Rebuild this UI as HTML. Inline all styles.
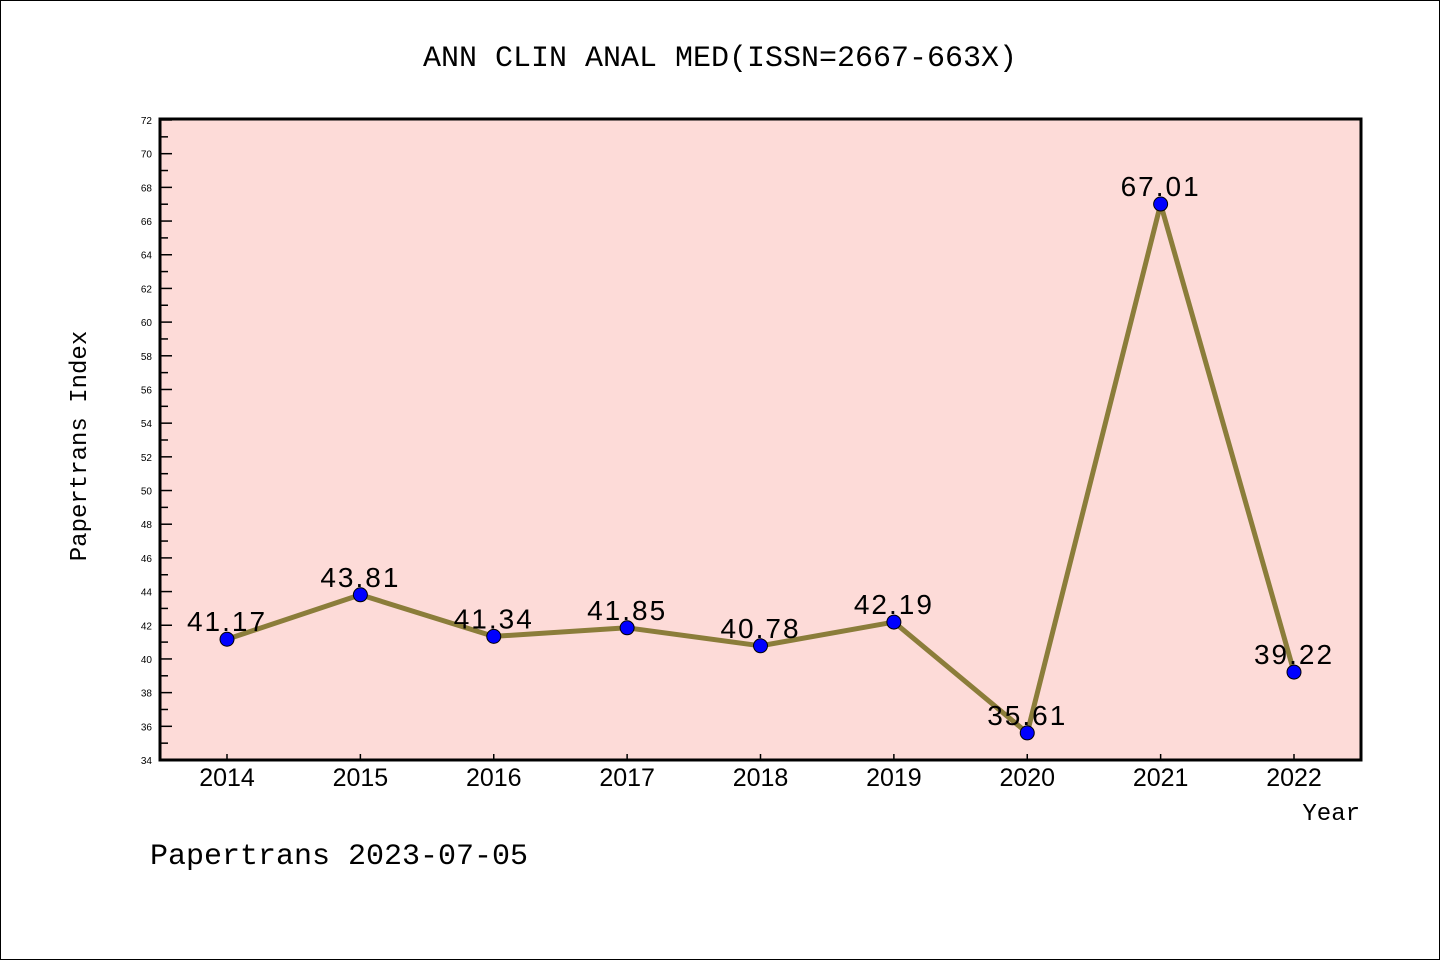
<!DOCTYPE html>
<html><head><meta charset="utf-8"><style>
html,body{margin:0;padding:0;background:#fff}
svg{display:block;font-family:"Liberation Mono","DejaVu Sans Mono",monospace}
</style></head><body>
<svg id="chart" width="1440" height="960">
<rect x="0.5" y="0.5" width="1439" height="959" fill="#fff" stroke="#000"/>
<text x="720" y="66" text-anchor="middle" font-size="30">ANN CLIN ANAL MED(ISSN=2667-663X)</text>
<rect x="160" y="119" width="1201" height="641" fill="#fddbd8"/>
<g id="yaxis"></g>
<g id="xaxis"></g>
<g id="series"></g>
<rect x="160" y="119" width="1201" height="641" fill="none" stroke="#000" stroke-width="3"/>
<text x="86" y="446" transform="rotate(-90 86 446)" text-anchor="middle" font-size="24">Papertrans Index</text>
<text x="1360" y="820" text-anchor="end" font-size="24">Year</text>
<text x="150" y="864" font-size="30">Papertrans 2023-07-05</text>
</svg>
<script>
const categories=["2014","2015","2016","2017","2018","2019","2020","2021","2022"];
const values=[41.17,43.81,41.34,41.85,40.78,42.19,35.61,67.01,39.22];
const labels=["41.17","43.81","41.34","41.85","40.78","42.19","35.61","67.01","39.22"];
const yTicks=[34,36,38,40,42,44,46,48,50,52,54,56,58,60,62,64,66,68,70,72];
const NS="http://www.w3.org/2000/svg";
const yMin=34,yMax=72,yTopPx=120,yBotPx=760;
function ys(v){return yBotPx-(v-yMin)/(yMax-yMin)*(yBotPx-yTopPx);}
function xs(i){return 227+i*(1294-227)/(categories.length-1);}
function mk(t,a,p){const e=document.createElementNS(NS,t);for(const k in a)e.setAttribute(k,a[k]);p.appendChild(e);return e;}
const ya=document.getElementById('yaxis'),xa=document.getElementById('xaxis'),se=document.getElementById('series');
yTicks.forEach((v,i)=>{
  const y=ys(v);
  const l=mk('line',{x1:160,x2:172,y1:y,y2:y,stroke:'#000','stroke-width':1.5},ya);
  
  
  const t=mk('text',{x:152,y:y+4,'text-anchor':'end','font-size':10,'font-family':'Liberation Sans, sans-serif'},ya);
  t.textContent=v;
  
  
  if(i<yTicks.length-1){
    const ym=ys(v+1);
    const m=mk('line',{x1:160,x2:168,y1:ym,y2:ym,stroke:'#000','stroke-width':1.5},ya);
    
    
  }
});
categories.forEach((c,i)=>{
  const x=xs(i);
  const l=mk('line',{x1:x,x2:x,y1:760,y2:754,stroke:'#000','stroke-width':1.5},xa);
  
  
  const t=mk('text',{x:x,y:786,'text-anchor':'middle','font-size':25,'font-family':'Liberation Sans, sans-serif'},xa);
  t.textContent=c;
  
  
});
const pts=values.map((v,i)=>xs(i)+','+ys(v)).join(' ');
const line=mk('polyline',{points:pts,fill:'none',stroke:'#8b7d3a','stroke-width':5,'stroke-linejoin':'round'},se);


values.forEach((v,i)=>{
  const c=mk('circle',{cx:xs(i),cy:ys(v),r:7,fill:'#0000ff',stroke:'#000','stroke-width':1},se);
  
  
  const t=mk('text',{x:xs(i),y:ys(v)-8,'text-anchor':'middle','font-size':28,'letter-spacing':2,'font-family':'Liberation Sans, sans-serif'},se);
  t.textContent=labels[i];
  
  
});
</script>
</body></html>
